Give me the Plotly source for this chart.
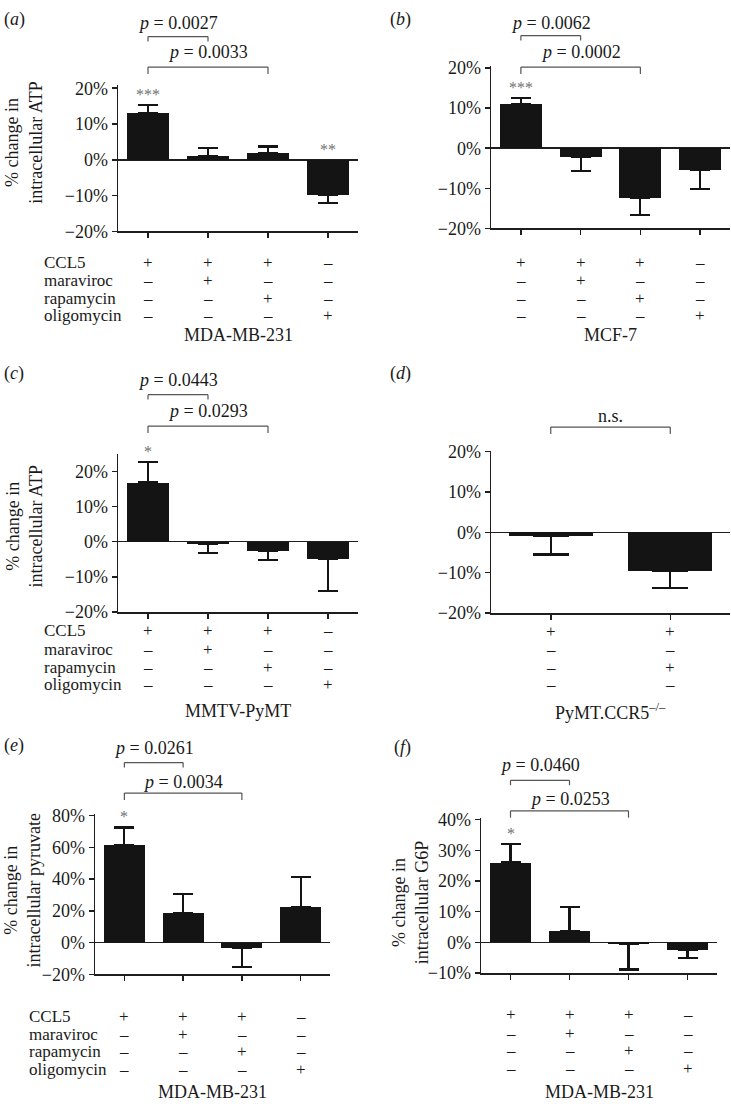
import plotly.graph_objects as go

W, H = 731, 1111
FONT = "Liberation Serif"
INK = "#1e1e1e"

# ---------------- data ----------------
conditions = ["CCL5", "maraviroc", "rapamycin", "oligomycin"]
signs_4 = [["+", "+", "+", "–"],
           ["–", "+", "–", "–"],
           ["–", "–", "+", "–"],
           ["–", "–", "–", "+"]]
signs_2 = [["+", "+"],
           ["–", "–"],
           ["–", "+"],
           ["–", "–"]]

# (a) MDA-MB-231, ATP
a_mean = [13.0, 1.0, 2.0, -9.8]
a_sem = [2.3, 2.2, 1.7, 2.2]
a_sig = ["***", "", "", "**"]
a_ticks = [-20, -10, 0, 10, 20]
a_pvals = [(0, 1, "<i>p</i> = 0.0027"), (0, 2, "<i>p</i> = 0.0033")]

# (b) MCF-7, ATP
b_mean = [11.0, -2.2, -12.5, -5.4]
b_sem = [1.6, 3.4, 4.2, 4.7]
b_sig = ["***", "", "", ""]
b_ticks = [-20, -10, 0, 10, 20]
b_pvals = [(0, 1, "<i>p</i> = 0.0062"), (0, 2, "<i>p</i> = 0.0002")]

# (c) MMTV-PyMT, ATP
c_mean = [16.8, -0.6, -2.7, -4.8]
c_sem = [5.8, 2.7, 2.4, 9.3]
c_sig = ["*", "", "", ""]
c_ticks = [-20, -10, 0, 10, 20]
c_pvals = [(0, 1, "<i>p</i> = 0.0443"), (0, 2, "<i>p</i> = 0.0293")]

# (d) PyMT.CCR5-/-, ATP
d_mean = [-0.8, -9.6]
d_sem = [4.7, 4.1]
d_sig = ["", ""]
d_ticks = [-20, -10, 0, 10, 20]
d_pvals = [(0, 1, "n.s.")]

# (e) MDA-MB-231, pyruvate
e_mean = [61.5, 18.8, -3.5, 22.2]
e_sem = [11.1, 12.1, 12.0, 19.0]
e_sig = ["*", "", "", ""]
e_ticks = [-20, 0, 20, 40, 60, 80]
e_pvals = [(0, 1, "<i>p</i> = 0.0261"), (0, 2, "<i>p</i> = 0.0034")]

# (f) MDA-MB-231, G6P
f_mean = [26.0, 3.8, -0.6, -2.6]
f_sem = [6.0, 7.7, 8.2, 2.6]
f_sig = ["*", "", "", ""]
f_ticks = [-10, 0, 10, 20, 30, 40]
f_pvals = [(0, 1, "<i>p</i> = 0.0460"), (0, 2, "<i>p</i> = 0.0253")]

# ---------------- layout geometry (pixels) ----------------
panels = [
    dict(tag="a", mean=a_mean, sem=a_sem, sig=a_sig, ticks=a_ticks, pvals=a_pvals, signs=signs_4,
         x0=118, x1=358, ybot=227, ytop=77.9, yr=[-20, 21],
         ytitle="% change in<br>intracellular ATP", tx=24, ty=137,
         rowlabels=True, rlx=43, rows=[259, 277, 295, 313], cell="MDA-MB-231", celly=332,
         br=[(29, 34, 15), (60, 67, 45)], lab=(14, 12)),
    dict(tag="b", mean=b_mean, sem=b_sem, sig=b_sig, ticks=b_ticks, pvals=b_pvals, signs=signs_4,
         x0=491, x1=730, ybot=224, ytop=59, yr=[-20, 20.5],
         ytitle=None, rowlabels=False, rows=[259, 277, 295, 313], cell="MCF-7", celly=332,
         br=[(28, 33, 15), (60, 67, 45)], lab=(400, 12)),
    dict(tag="c", mean=c_mean, sem=c_sem, sig=c_sig, ticks=c_ticks, pvals=c_pvals, signs=signs_4,
         x0=118, x1=358, ybot=614, ytop=453, yr=[-20, 25],
         ytitle="% change in<br>intracellular ATP", tx=24, ty=527,
         rowlabels=True, rlx=43, rows=[633, 652, 670, 688], cell="MMTV-PyMT", celly=715,
         br=[(393, 398, 378), (425, 432, 410)], lab=(14, 372)),
    dict(tag="d", mean=d_mean, sem=d_sem, sig=d_sig, ticks=d_ticks, pvals=d_pvals, signs=signs_2,
         x0=491, x1=730, ybot=615, ytop=449.8, yr=[-20, 20.3],
         ytitle=None, rowlabels=False, rows=[634, 652, 670, 688],
         cell="PyMT.CCR5<sup>–/–</sup>", celly=715,
         br=[(426, 433, 415)], lab=(400, 372)),
    dict(tag="e", mean=e_mean, sem=e_sem, sig=e_sig, ticks=e_ticks, pvals=e_pvals, signs=signs_4,
         x0=95, x1=330, ybot=982.3, ytop=819.4, yr=[-20, 81],
         ytitle="% change in<br>intracellular pyruvate", tx=22, ty=897,
         rowlabels=True, rlx=28, rows=[1025, 1043, 1061, 1079], cell="MDA-MB-231", celly=1102,
         br=[(767, 772, 752), (798, 805, 787)], lab=(14, 750)),
    dict(tag="f", mean=f_mean, sem=f_sem, sig=f_sig, ticks=f_ticks, pvals=f_pvals, signs=signs_4,
         x0=481, x1=717, ybot=981, ytop=823.4, yr=[-10, 40.5],
         ytitle="% change in<br>intracellular G6P", tx=410, ty=910,
         rowlabels=False, rows=[1023, 1042, 1060, 1078], cell="MDA-MB-231", celly=1102,
         br=[(785, 790, 769), (816, 823, 804)], lab=(402, 752)),
]


def px(x):
    return x / W


def py(y):
    return 1 - y / H


def pct(v):
    return ("−%d%%" % -v) if v < 0 else ("%d%%" % v)


fig = go.Figure()
annotations = []
shapes = []
layout = {}
TXT = dict(family=FONT, size=18, color="#1a1a1a")
ROW = dict(family=FONT, size=17, color="#1a1a1a")

for k, p in enumerate(panels, start=1):
    sfx = "" if k == 1 else str(k)
    xa, ya = "x" + sfx, "y" + sfx
    n = len(p["mean"])
    up = [s if m >= 0 else 0 for m, s in zip(p["mean"], p["sem"])]
    dn = [s if m < 0 else 0 for m, s in zip(p["mean"], p["sem"])]
    capw = 10 if n == 4 else 18
    fig.add_trace(go.Bar(
        x=list(range(n)), y=p["mean"], width=0.7, xaxis=xa, yaxis=ya,
        marker=dict(color="#141414", line=dict(width=0)),
        error_y=dict(type="data", symmetric=False, array=up, arrayminus=dn,
                     color="#141414", thickness=2.2, width=capw),
        hoverinfo="skip", showlegend=False))

    layout["xaxis" + sfx] = dict(
        domain=[px(p["x0"]), px(p["x1"])], range=[-0.5, n - 0.5], anchor=ya,
        showline=True, linecolor=INK, linewidth=1.5, ticks="outside", ticklen=5,
        tickwidth=1.5, tickcolor=INK, tickvals=list(range(n)), showticklabels=False,
        showgrid=False, zeroline=False, fixedrange=True)
    layout["yaxis" + sfx] = dict(
        domain=[py(p["ybot"]), py(p["ytop"])], range=p["yr"], anchor=xa,
        showline=True, linecolor=INK, linewidth=1.5, ticks="outside", ticklen=5,
        tickwidth=1.5, tickcolor=INK, tickmode="array", tickvals=p["ticks"],
        ticktext=[pct(v) for v in p["ticks"]],
        tickfont=dict(family=FONT, size=18, color="#1a1a1a"),
        showgrid=False, zeroline=True, zerolinecolor=INK, zerolinewidth=1.5,
        fixedrange=True)

    # significance stars
    for i, (m, s, sg) in enumerate(zip(p["mean"], p["sem"], p["sig"])):
        if sg:
            annotations.append(dict(
                x=i, y=(m + s) if m > 0 else 0, xref=xa, yref=ya, text=sg,
                showarrow=False, yanchor="bottom", yshift=0,
                font=dict(family=FONT, size=16, color="#707070")))

    # comparison brackets
    for (i0, i1, txt), (yl, yb, yt) in zip(p["pvals"], p["br"]):
        xd = xa + " domain"
        f0, f1 = (i0 + 0.5) / n, (i1 + 0.5) / n
        line = dict(color="#555", width=1.2)
        shapes.append(dict(type="line", xref=xd, yref="paper", x0=f0, x1=f1,
                           y0=py(yl), y1=py(yl), line=line))
        shapes.append(dict(type="line", xref=xd, yref="paper", x0=f0, x1=f0,
                           y0=py(yl), y1=py(yb), line=line))
        shapes.append(dict(type="line", xref=xd, yref="paper", x0=f1, x1=f1,
                           y0=py(yl), y1=py(yb), line=line))
        annotations.append(dict(
            x=(i0 + i1) / 2, y=py(yt), xref=xa, yref="paper", text=txt,
            showarrow=False, xanchor="center", yanchor="middle", font=TXT,
            borderpad=0))

    # +/- rows
    for r, ry in enumerate(p["rows"]):
        for i in range(n):
            annotations.append(dict(
                x=i, y=py(ry), xref=xa, yref="paper", text=p["signs"][r][i],
                showarrow=False, xanchor="center", yanchor="middle", font=ROW,
                borderpad=0))
        if p["rowlabels"]:
            annotations.append(dict(
                x=px(p["rlx"]), y=py(ry), xref="paper", yref="paper",
                text=conditions[r], showarrow=False, xanchor="left",
                yanchor="middle", font=ROW, borderpad=0))

    # cell line label
    annotations.append(dict(
        x=(n - 1) / 2, y=py(p["celly"]), xref=xa, yref="paper", text=p["cell"],
        showarrow=False, xanchor="center", yanchor="middle", font=TXT,
        borderpad=0))

    # y-axis title
    if p["ytitle"]:
        annotations.append(dict(
            x=px(p["tx"]), y=py(p["ty"]), xref="paper", yref="paper",
            text=p["ytitle"], textangle=-90, showarrow=False,
            xanchor="center", yanchor="middle", font=TXT))

    # panel letter
    annotations.append(dict(
        x=px(p["lab"][0]), y=py(p["lab"][1]), xref="paper", yref="paper",
        text="(<i>%s</i>)" % p["tag"], showarrow=False,
        xanchor="center", yanchor="middle", font=TXT))

fig.update_layout(
    width=W, height=H, margin=dict(l=0, r=0, t=0, b=0),
    paper_bgcolor="white", plot_bgcolor="white", showlegend=False,
    bargap=0, hovermode=False, annotations=annotations, shapes=shapes, **layout)

fig.write_html("out.html",
               config={"displayModeBar": False, "staticPlot": True},
               post_script="document.body.style.margin='0';"
                           "document.body.style.overflow='hidden';")
